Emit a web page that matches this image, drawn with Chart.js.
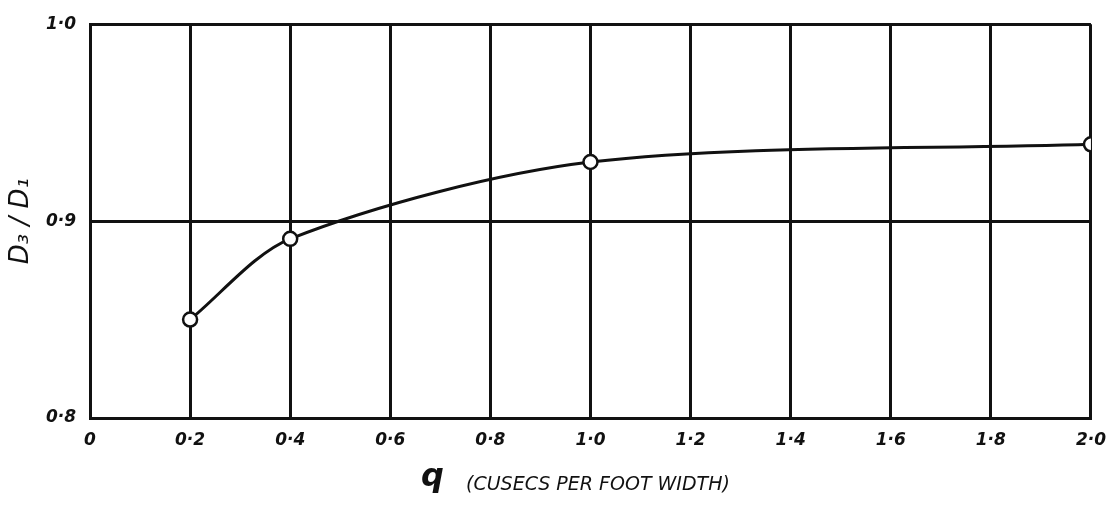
<!DOCTYPE html>
<html>
<head>
<meta charset="utf-8">
<script src="https://cdn.jsdelivr.net/npm/chart.js@4/dist/chart.umd.min.js"></script>
<style>
  html, body { margin: 0; padding: 0; background: #fff; }
  #wrap { width: 1118px; height: 508px; }
</style>
</head>
<body>
<div id="wrap"><canvas id="c" width="1118" height="508"></canvas></div>
<script>
// q (cusecs per foot width) vs D3/D1
const qValues = [0.2, 0.4, 1.0, 2.0];
const ratioValues = [0.850, 0.891, 0.930, 0.939];

const X_MIN = 0, X_MAX = 2.0, X_STEP = 0.2;
const Y_MIN = 0.8, Y_MAX = 1.0, Y_STEP = 0.1;

const X_TITLE_Q = 'q';
const X_TITLE_REST = '(CUSECS PER FOOT WIDTH)';
const Y_TITLE = 'D₃ / D₁';

const INK = '#111';
const LABEL_FONT = { family: 'DejaVu Sans', size: 17, weight: 'bold', style: 'italic' };

// hand-lettered decimals use a raised dot
const fmt = v => {
  const r = Math.round(v * 10) / 10;
  if (r === 0) return '0';
  return r.toFixed(1).replace('.', '·');
};

// x title drawn in two sizes, like the lettering in the figure
const xTitlePlugin = {
  id: 'xTitle',
  afterDraw(chart) {
    const { ctx, chartArea } = chart;
    ctx.save();
    ctx.fillStyle = INK;
    ctx.textBaseline = 'alphabetic';
    ctx.font = 'italic bold 32px "DejaVu Sans"';
    const qw = ctx.measureText(X_TITLE_Q).width;
    ctx.font = 'italic 19px "DejaVu Sans"';
    const rw = ctx.measureText(X_TITLE_REST).width;
    const gap = 22;
    const total = qw + gap + rw;
    const cx = (chartArea.left + chartArea.right) / 2;
    let x = cx - total / 2 - 15;
    const y = 490;
    ctx.font = 'italic bold 32px "DejaVu Sans"';
    ctx.fillText(X_TITLE_Q, x, y - 4);
    ctx.font = 'italic 19px "DejaVu Sans"';
    ctx.fillText(X_TITLE_REST, x + qw + gap, y);
    ctx.restore();
  }
};

new Chart(document.getElementById('c'), {
  type: 'line',
  data: {
    datasets: [{
      data: qValues.map((q, i) => ({ x: q, y: ratioValues[i] })),
      borderColor: INK,
      borderWidth: 3,
      tension: 0.3,
      pointRadius: 7,
      pointHoverRadius: 7,
      pointBackgroundColor: '#fff',
      pointBorderColor: INK,
      pointBorderWidth: 2.5,
      fill: false
    }]
  },
  options: {
    responsive: false,
    animation: false,
    layout: { padding: { top: 22, right: 25, left: 0, bottom: 0 } },
    plugins: {
      legend: { display: false },
      tooltip: { enabled: false }
    },
    scales: {
      x: {
        type: 'linear',
        min: X_MIN,
        max: X_MAX,
        ticks: {
          stepSize: X_STEP,
          callback: v => fmt(v),
          color: INK,
          font: LABEL_FONT,
          padding: 12,
          maxRotation: 0
        },
        grid: { color: INK, lineWidth: 3, drawTicks: false },
        border: { display: true, color: INK, width: 3 },
        afterFit: s => { s.height = 90; }
      },
      y: {
        min: Y_MIN,
        max: Y_MAX,
        ticks: {
          stepSize: Y_STEP,
          callback: v => fmt(v),
          color: INK,
          font: LABEL_FONT,
          padding: 14
        },
        grid: { color: INK, lineWidth: 3, drawTicks: false },
        border: { display: true, color: INK, width: 3 },
        title: {
          display: true,
          text: Y_TITLE,
          color: INK,
          font: { family: 'DejaVu Sans', size: 26, style: 'italic' },
          padding: { top: 6, bottom: 2 }
        },
        afterFit: s => { s.width = 90; }
      }
    }
  },
  plugins: [xTitlePlugin]
});
</script>
</body>
</html>
